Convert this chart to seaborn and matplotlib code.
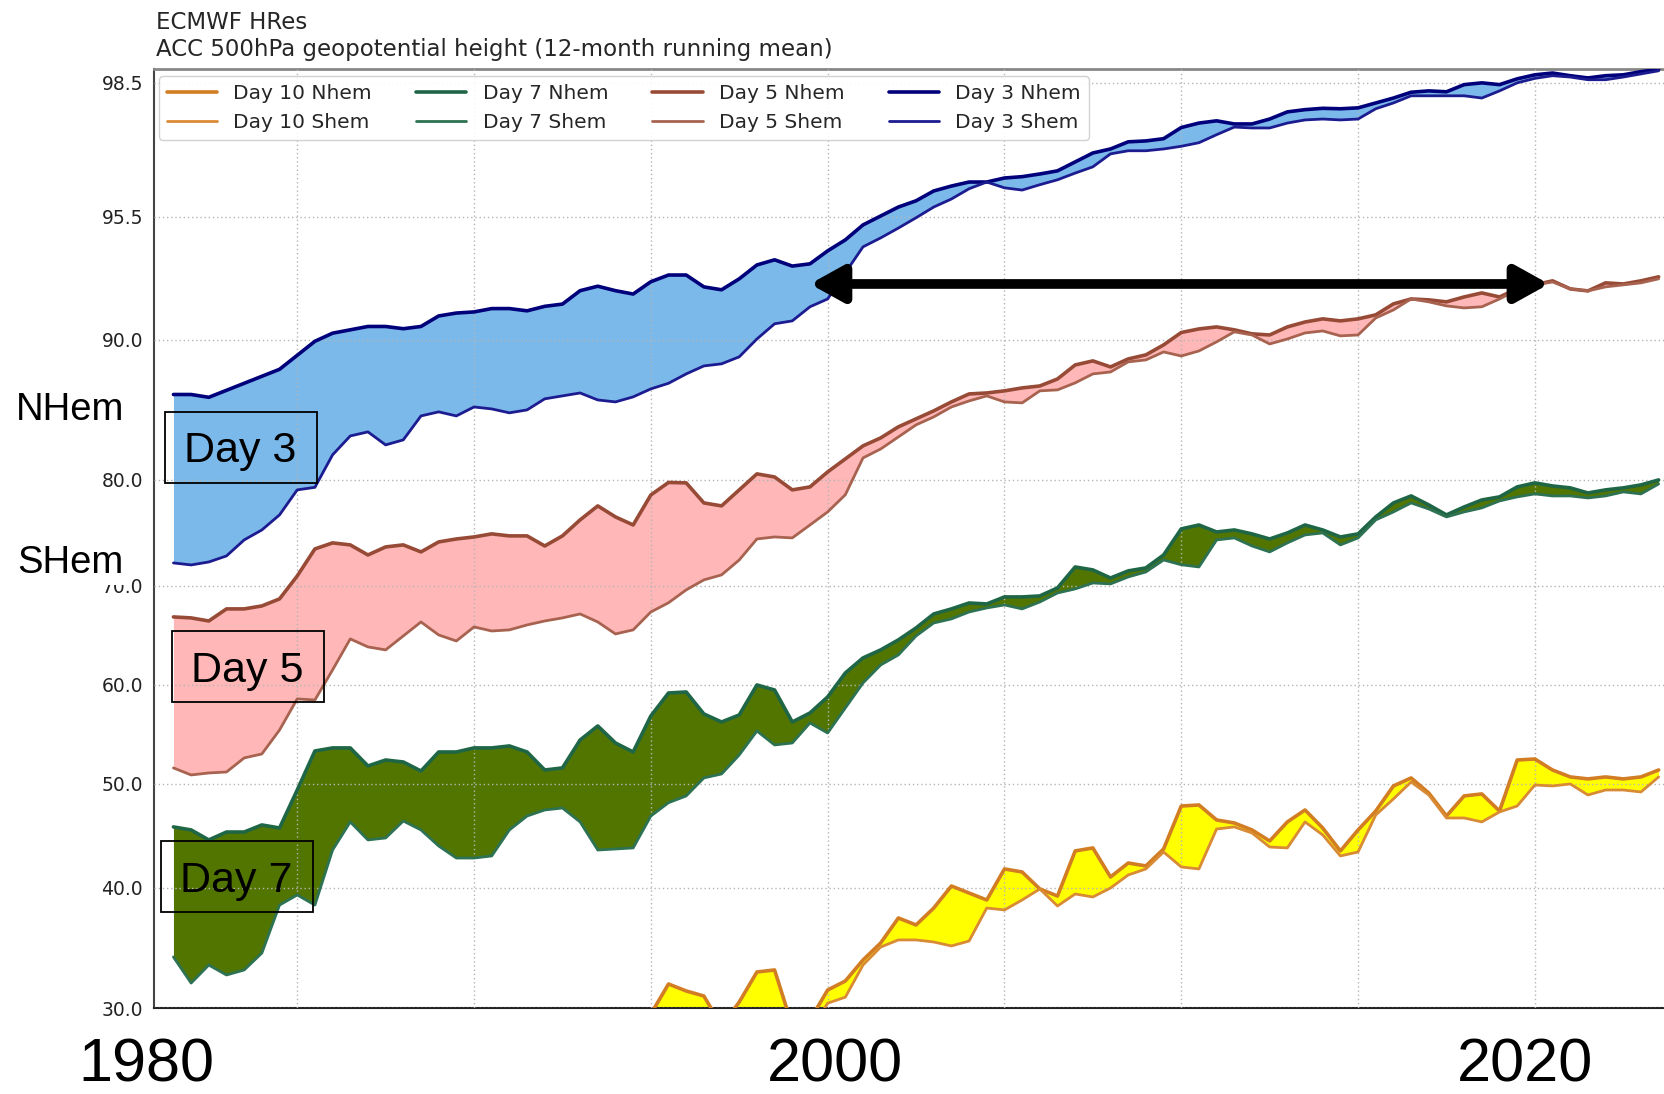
import numpy as np
import matplotlib
matplotlib.use("Agg")
import matplotlib.pyplot as plt
import seaborn as sns
from matplotlib.patches import Rectangle

# half-yearly samples of the 12-month running mean ACC (%)
years = np.arange(1981.5, 2023.51, 0.5)

d3_nh = [86.1, 86.1, 85.9, 86.4, 86.9, 87.4, 87.9, 88.9, 89.9, 90.3,
         90.45, 90.6, 90.6, 90.5, 90.6, 91.07, 91.2, 91.25, 91.4, 91.4,
         91.3, 91.5, 91.6, 92.2, 92.4, 92.2, 92.05, 92.6, 92.9, 92.9,
         92.37, 92.24, 92.73, 93.35, 93.58, 93.3, 93.4, 93.98, 94.47, 95.14,
         95.52, 95.72, 95.86, 96.08, 96.19, 96.28, 96.28, 96.37, 96.4, 96.46,
         96.53, 96.73, 96.93, 97.02, 97.18, 97.2, 97.25, 97.5, 97.6, 97.65,
         97.58, 97.58, 97.69, 97.85, 97.9, 97.93, 97.92, 97.94, 98.05, 98.16,
         98.29, 98.32, 98.3, 98.46, 98.5, 98.46, 98.59, 98.68, 98.72, 98.66,
         98.61, 98.66, 98.68, 98.75, 98.8]
d3_sh = [72.17, 71.98, 72.26, 72.83, 74.34, 75.28, 76.7, 79.06, 79.3, 81.79,
         83.14, 83.43, 82.5, 82.86, 84.57, 84.86, 84.57, 85.21, 85.07, 84.79,
         85.0, 85.79, 86.0, 86.21, 85.71, 85.57, 85.93, 86.5, 86.9, 87.57,
         88.14, 88.29, 88.79, 90.04, 90.72, 90.85, 91.48, 91.83, 93.0, 94.16,
         94.56, 95.0, 95.46, 95.72, 95.9, 96.13, 96.28, 96.15, 96.1, 96.22,
         96.33, 96.48, 96.62, 96.91, 96.98, 96.98, 97.02, 97.08, 97.16, 97.34,
         97.51, 97.49, 97.49, 97.6, 97.67, 97.69, 97.67, 97.69, 97.92, 98.05,
         98.21, 98.21, 98.21, 98.21, 98.16, 98.32, 98.5, 98.6, 98.66, 98.63,
         98.57, 98.57, 98.63, 98.7, 98.77]

d5_nh = [66.87, 66.77, 66.46, 67.68, 67.68, 67.98, 68.69, 70.94, 73.49, 74.06,
         73.87, 72.92, 73.68, 73.87, 73.21, 74.15, 74.43, 74.62, 74.91, 74.72,
         74.72, 73.77, 74.72, 76.23, 77.55, 76.51, 75.75, 78.58, 79.76, 79.72,
         77.83, 77.55, 79.06, 80.43, 80.21, 79.06, 79.34, 80.57, 81.5, 82.43,
         83.0, 83.79, 84.36, 84.93, 85.57, 86.14, 86.21, 86.36, 86.57, 86.71,
         87.21, 88.21, 88.5, 88.07, 88.64, 88.93, 89.64, 90.33, 90.49, 90.58,
         90.45, 90.27, 90.22, 90.58, 90.8, 90.94, 90.85, 90.94, 91.12, 91.61,
         91.83, 91.79, 91.7, 91.92, 92.1, 91.92, 92.28, 92.46, 92.64, 92.28,
         92.19, 92.55, 92.5, 92.64, 92.82]
d5_sh = [51.62, 50.91, 51.11, 51.21, 52.63, 53.03, 55.45, 58.59, 58.48, 61.52,
         64.65, 63.84, 63.54, 64.95, 66.36, 65.05, 64.44, 65.86, 65.45, 65.56,
         66.06, 66.46, 66.77, 67.17, 66.36, 65.15, 65.56, 67.37, 68.3, 69.6,
         70.57, 71.04, 72.45, 74.43, 74.62, 74.53, 75.75, 76.98, 78.6, 81.57,
         82.21, 83.07, 83.93, 84.5, 85.21, 85.64, 86.0, 85.57, 85.5, 86.36,
         86.43, 86.93, 87.57, 87.71, 88.43, 88.57, 89.14, 88.85, 89.21, 89.86,
         90.36, 90.22, 89.71, 90.04, 90.31, 90.4, 90.18, 90.22, 90.98, 91.34,
         91.83, 91.7, 91.52, 91.43, 91.48, 91.83, 92.24, 92.46, 92.59, 92.28,
         92.19, 92.37, 92.46, 92.55, 92.73]

d7_nh = [45.87, 45.58, 44.62, 45.38, 45.38, 46.06, 45.77, 49.42, 53.33, 53.64,
         53.64, 51.82, 52.42, 52.22, 51.31, 53.23, 53.23, 53.64, 53.64, 53.84,
         53.23, 51.41, 51.62, 54.44, 55.86, 54.14, 53.23, 56.87, 59.19, 59.29,
         57.07, 56.26, 56.97, 60.0, 59.49, 56.26, 57.17, 58.79, 61.21, 62.73,
         63.54, 64.55, 65.76, 67.17, 67.68, 68.28, 68.18, 68.89, 68.89, 68.99,
         69.8, 71.79, 71.51, 70.75, 71.42, 71.7, 72.92, 75.38, 75.75, 75.09,
         75.28, 74.91, 74.43, 75.0, 75.75, 75.28, 74.62, 74.91, 76.51, 77.83,
         78.49, 77.64, 76.7, 77.45, 78.11, 78.4, 79.34, 79.72, 79.43, 79.25,
         78.77, 79.06, 79.25, 79.53, 80.0]
d7_sh = [34.25, 32.08, 33.58, 32.75, 33.17, 34.58, 38.58, 39.42, 38.58, 43.65,
         46.35, 44.62, 44.81, 46.44, 45.58, 44.04, 42.88, 42.88, 43.08, 45.58,
         46.92, 47.5, 47.69, 46.35, 43.65, 43.75, 43.85, 46.92, 48.2, 48.85,
         50.61, 51.01, 52.93, 55.35, 53.94, 54.14, 56.16, 55.15, 57.68, 60.2,
         62.02, 63.03, 64.95, 66.26, 66.67, 67.37, 67.78, 68.08, 67.68, 68.38,
         69.29, 69.7, 70.28, 70.19, 70.85, 71.32, 72.45, 72.0, 71.79, 74.34,
         74.53, 73.77, 73.21, 74.06, 74.81, 75.0, 73.87, 74.53, 76.23, 76.98,
         77.83, 77.26, 76.51, 76.98, 77.36, 78.02, 78.4, 78.68, 78.49, 78.49,
         78.3, 78.49, 78.87, 78.68, 79.62]

# day 10 sits below the 30% axis floor until the mid 1990s
d10_nh = [22.0, 22.5, 22.0, 23.0, 23.5, 23.0, 24.0, 25.0, 26.0, 26.5,
          26.0, 26.5, 27.0, 26.5, 27.0, 27.5, 27.0, 27.5, 28.0, 27.5,
          28.0, 28.5, 28.0, 28.5, 29.0, 28.5, 28.5, 29.5, 32.0, 31.42,
          31.0, 28.5, 30.5, 33.0, 33.17, 28.5, 29.0, 31.5, 32.25, 34.0,
          35.42, 37.5, 36.92, 38.33, 40.19, 39.58, 39.0, 41.83, 41.54, 39.92,
          39.33, 43.56, 43.85, 41.06, 42.4, 42.12, 43.75, 47.88, 47.98, 46.54,
          46.25, 45.58, 44.52, 46.35, 47.5, 45.77, 43.56, 45.58, 47.4, 49.81,
          50.61, 49.13, 46.92, 48.85, 49.04, 47.4, 52.42, 52.52, 51.41, 50.71,
          50.51, 50.71, 50.51, 50.71, 51.41]
d10_sh = [20.0, 20.5, 20.0, 21.0, 21.0, 21.5, 22.0, 22.5, 23.0, 23.5,
          23.0, 23.5, 24.0, 23.5, 24.0, 24.5, 24.0, 24.5, 25.0, 25.0,
          25.5, 26.0, 25.5, 26.0, 26.5, 26.0, 27.5, 27.5, 28.5, 28.5,
          28.0, 27.5, 27.5, 28.5, 29.0, 27.5, 28.0, 30.4, 30.9, 33.58,
          35.08, 35.67, 35.67, 35.5, 35.17, 35.58, 38.33, 38.17, 39.0, 39.92,
          38.5, 39.5, 39.25, 40.0, 41.25, 41.83, 43.46, 42.02, 41.83, 45.67,
          45.87, 45.29, 43.94, 43.85, 46.35, 45.1, 43.08, 43.46, 47.02, 48.56,
          50.2, 48.94, 46.73, 46.73, 46.35, 47.31, 47.88, 49.9, 49.81, 50.0,
          48.94, 49.42, 49.42, 49.23, 50.71]

ytick_vals = [30.0, 40.0, 50.0, 60.0, 70.0, 80.0, 90.0, 95.5, 98.5]
xtick_years = [1985, 1990, 1995, 2000, 2005, 2010, 2015, 2020]

# the y axis stretches the high-ACC end; knots follow the original tick spacing
scale_vals = [0, 30, 40, 50, 60, 70, 80, 90, 95.5, 98.5, 100]
scale_pos = [-360, 0, 120, 224, 323, 422, 528, 668, 791, 925, 992]


def fwd(v):
    return np.interp(v, scale_vals, scale_pos)


def inv(p):
    return np.interp(p, scale_pos, scale_vals)


sns.set_style("white")
plt.rcParams["font.family"] = ["DejaVu Sans"]

W, H = 1665, 1094
fig = plt.figure(figsize=(W / 100, H / 100), dpi=100)
ax = fig.add_axes([154 / W, 86 / H, 1540 / W, 939 / H])
ax.set_yscale("function", functions=(fwd, inv))

bands = [
    ("Day 3", d3_nh, d3_sh, "#00007a", "#1c1c90", "#7ab9ea"),
    ("Day 5", d5_nh, d5_sh, "#974b36", "#a86350", "#ffb7b7"),
    ("Day 7", d7_nh, d7_sh, "#1f6646", "#2d7253", "#527500"),
    ("Day 10", d10_nh, d10_sh, "#d27d23", "#d98a35", "#ffff00"),
]
for name, nh, sh, c_nh, c_sh, c_fill in bands:
    ax.fill_between(years, sh, nh, color=c_fill, lw=0, zorder=1)
    sns.lineplot(x=years, y=nh, ax=ax, color=c_nh, lw=2.6, zorder=3,
                 label=name + " Nhem")
    sns.lineplot(x=years, y=sh, ax=ax, color=c_sh, lw=2.0, zorder=3,
                 label=name + " Shem")

ax.set_xlim(1980.95, 2024.5)
ax.set_ylim(30, 98.81)
ax.set_yticks(ytick_vals)
ax.set_yticklabels([f"{v:.1f}" for v in ytick_vals])
ax.set_xticks(xtick_years)
ax.set_xticklabels([])
ax.tick_params(axis="y", labelsize=13.5, labelcolor="#222222", length=5,
               width=1, color="#333333", pad=3)
ax.tick_params(axis="x", length=6, width=1, color="#333333")
ax.set_xlabel("")
ax.set_ylabel("")

ax.grid(True, ls=(0, (1, 2)), color="#b5b5b5", lw=1.0)
ax.set_axisbelow(False)
for side, col, lw in [("left", "#444444", 1.5), ("bottom", "#222222", 1.5),
                      ("top", "#888888", 2.0)]:
    ax.spines[side].set_color(col)
    ax.spines[side].set_linewidth(lw)
ax.spines["right"].set_visible(False)

handles, labels = ax.get_legend_handles_labels()
lookup = dict(zip(labels, handles))
order = ["Day 10 Nhem", "Day 10 Shem", "Day 7 Nhem", "Day 7 Shem",
         "Day 5 Nhem", "Day 5 Shem", "Day 3 Nhem", "Day 3 Shem"]
leg = ax.legend([lookup[k] for k in order], order, ncol=4, loc="upper left",
                bbox_to_anchor=(0.003, 0.993), borderaxespad=0, fontsize=14.5,
                handlelength=2.5, columnspacing=2.2, frameon=True,
                edgecolor="#cccccc", framealpha=0.9)
leg.set_zorder(7)

ax.annotate("", xy=(2020.4, 92.5), xytext=(1999.5, 92.5),
            arrowprops=dict(arrowstyle="<|-|>,head_length=0.9,head_width=0.5",
                            lw=7, color="black", mutation_scale=22,
                            shrinkA=0, shrinkB=0), zorder=6)

fig.text(156 / W, 1 - 29 / H, "ECMWF HRes", fontsize=16.5, va="baseline")
fig.text(156 / W, 1 - 56 / H,
         "ACC 500hPa geopotential height (12-month running mean)",
         fontsize=16.5, va="baseline")

big = dict(family="Liberation Sans", color="black")
fig.text(16 / W, 1 - 420 / H, "NHem", fontsize=27.5, va="baseline", **big)
fig.text(17 / W, 1 - 573 / H, "SHem", fontsize=27.5, va="baseline",
         bbox=dict(facecolor="white", edgecolor="none", pad=3), **big)

boxes = [("Day 3", 165, 412, 240, 462),
         ("Day 5", 172, 631, 247, 682),
         ("Day 7", 161, 841, 236, 892)]
for label, bx, by, tx, ty in boxes:
    fig.patches.append(Rectangle((bx / W, 1 - (by + 71) / H), 152 / W, 71 / H,
                                 transform=fig.transFigure, fill=False,
                                 edgecolor="black", lw=1.3, zorder=5))
    fig.text(tx / W, 1 - ty / H, label, fontsize=31, ha="center",
             va="baseline", zorder=6, **big)

for label, cx in [("1980", 146), ("2000", 835), ("2020", 1525)]:
    fig.text(cx / W, 1 - 1082 / H, label, fontsize=44, ha="center",
             va="baseline", **big)

fig.savefig("out.png", dpi=100)
